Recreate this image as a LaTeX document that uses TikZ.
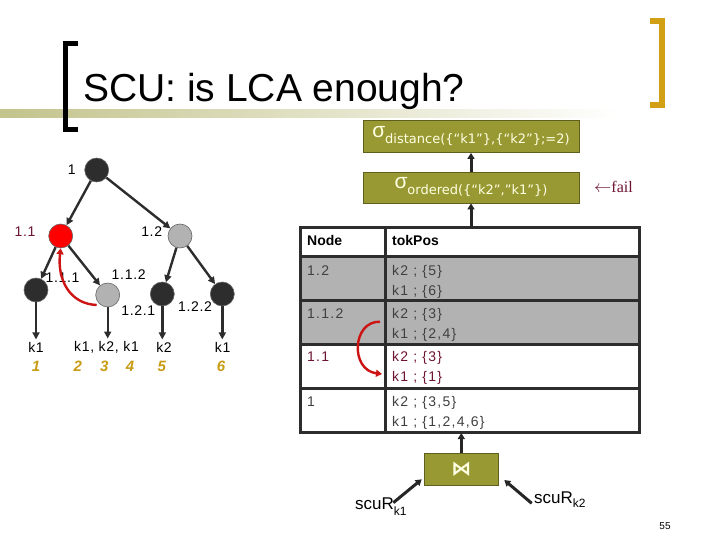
\documentclass[tikz,border=0pt]{standalone}
\usepackage{fontspec}
\setmainfont{Liberation Sans}
\newfontfamily\dv{DejaVu Sans}
\newfontfamily\lsf[LetterSpace=5]{Liberation Sans}
\newfontfamily\tsf[LetterSpace=9]{Liberation Sans}
\newfontfamily\tnr{Liberation Serif}
\usetikzlibrary{arrows.meta}
\definecolor{boxolive}{RGB}{153,153,51}
\definecolor{boxedge}{RGB}{95,95,30}
\definecolor{goldc}{RGB}{210,160,20}
\definecolor{numgold}{RGB}{200,155,20}
\definecolor{maroonc}{RGB}{110,20,50}
\definecolor{darkc}{RGB}{45,45,45}
\definecolor{grayc}{RGB}{178,178,178}
\definecolor{redc}{RGB}{205,20,20}
\definecolor{bandc}{RGB}{195,195,140}
\definecolor{cream}{RGB}{255,255,228}
\tikzset{
  tn/.style={circle, minimum size=24pt, inner sep=0pt, draw=black!60, line width=0.6pt},
  edge/.style={draw=darkc, line width=2.4pt, -{Triangle[length=7pt,width=7pt]}},
  redarr/.style={draw=redc, line width=2.4pt, -{Triangle[length=6pt,width=7pt]}},
  arr/.style={draw=black!85, line width=3pt, -{Triangle[length=6pt,width=7pt]}},
  sbox/.style={rectangle, fill=boxolive, draw=boxedge, line width=0.8pt, minimum width=216pt, inner sep=0pt, text=cream},
  tlab/.style={font=\lsf\fontsize{14}{14}\selectfont, inner sep=0pt},
  tab/.style={font=\tsf\fontsize{14}{14}\selectfont, inner sep=0pt, anchor=base west},
  num/.style={font=\fontsize{15}{15}\selectfont\bfseries\itshape, text=numgold, inner sep=0pt},
  rowline/.style={draw=darkc, line width=2.5pt}
}
\begin{document}
\begin{tikzpicture}[x=1pt,y=-1pt]
\useasboundingbox (0,0) rectangle (720,540);
% title
\shade[left color=bandc, right color=white] (0,110) rectangle (620,118);
\fill[black] (63,41) rectangle (68,132);
\fill[black] (63,41) rectangle (78,46);
\fill[black] (63,127) rectangle (78,132);
\fill[goldc] (659,18) rectangle (665,108);
\fill[goldc] (650,18) rectangle (665,24);
\fill[goldc] (650,102) rectangle (665,108);
\node[anchor=base west, inner sep=0pt, font=\fontsize{39}{46}\selectfont] (title) at (83,102) {SCU: is LCA enough?};

% sigma boxes
\node[sbox, minimum height=32pt] (s1) at (471,136.5) {{\fontsize{21}{21}\selectfont σ}\raisebox{-6pt}{\dv\fontsize{13}{13}\selectfont distance(\{“k1”\},\{“k2”\};=2)}};
\node[sbox, minimum height=31pt] (s2) at (471,187.5) {{\fontsize{21}{21}\selectfont σ}\raisebox{-6pt}{\dv\fontsize{13}{13}\selectfont ordered(\{“k2”,”k1”\})}};
\node[text=maroonc, inner sep=0pt, anchor=west, font=\tnr\fontsize{16}{16}\selectfont] (fail) at (594,187) {$\leftarrow$fail};

% table
\node[minimum width=339pt, minimum height=205.3pt, inner sep=0pt] (tab) at (469.5,330.15) {};
\fill[grayc] (300,256.7) rectangle (639,344.5);
\draw[rowline] (300,256.7) -- (639,256.7);
\draw[rowline] (300,300.7) -- (639,300.7);
\draw[rowline] (300,344.5) -- (639,344.5);
\draw[rowline] (300,388.5) -- (639,388.5);
\draw[rowline] (385.7,227.5) -- (385.7,432.8);
\draw[draw=darkc, line width=3pt] (300,227.5) rectangle (639,432.8);

\node[tab, font=\fontsize{14}{14}\selectfont\bfseries] (hn) at (307,245) {Node};
\node[tab, font=\fontsize{14}{14}\selectfont\bfseries] (ht) at (392,245) {tokPos};
\node[tab, text=black!75] (r1n) at (307,275) {1.2};
\node[tab, text=black!75] (r1a) at (392,275) {k2 ; \{5\}};
\node[tab, text=black!75] (r1b) at (392,295) {k1 ; \{6\}};
\node[tab, text=black!75] (r2n) at (307,318) {1.1.2};
\node[tab, text=black!75] (r2a) at (392,318) {k2 ; \{3\}};
\node[tab, text=black!75] (r2b) at (392,338) {k1 ; \{2,4\}};
\node[tab, text=maroonc] (r3n) at (307,361.5) {1.1};
\node[tab, text=maroonc] (r3a) at (392,361.5) {k2 ; \{3\}};
\node[tab, text=maroonc] (r3b) at (392,381.5) {k1 ; \{1\}};
\node[tab, text=black!75] (r4n) at (307,406.5) {1};
\node[tab, text=black!75] (r4a) at (392,406.5) {k2 ; \{3,5\}};
\node[tab, text=black!75] (r4b) at (392,426.5) {k1 ; \{1,2,4,6\}};
\coordinate (ta1) at (380,321.7);
\coordinate (ta2) at (382,374);
\draw[redarr] (ta1) .. controls (352,321) and (350,370) .. (ta2);

% arrows between operators
\draw[arr] (s2.south |- tab.north) -- (s2.south);
\draw[arr] (s2.north) -- (s1.south);

% join
\node[rectangle, fill=boxolive, draw=boxedge, line width=0.8pt, minimum width=74pt, minimum height=31.7pt, inner sep=0pt, text=cream] (join) at (461.3,469.2) {\dv\bfseries\fontsize{20}{20}\selectfont ⋈};
\draw[arr] (join.north) -- (join.north |- tab.south);
\node[anchor=base west, inner sep=0pt, font=\fontsize{17}{17}\selectfont] (scu1) at (355,509) {scuR\raisebox{-6pt}{\fontsize{12}{12}\selectfont k1}};
\node[anchor=base west, inner sep=0pt, font=\fontsize{17}{17}\selectfont] (scu2) at (534,503) {scuR\raisebox{-4pt}{\fontsize{12}{12}\selectfont k2}};
\coordinate (a1s) at (393.3,502.7);
\coordinate (a1e) at (421.7,479.3);
\coordinate (a2s) at (531.7,503.3);
\coordinate (a2e) at (504.3,480);
\draw[arr] (a1s) -- (a1e);
\draw[arr] (a2s) -- (a2e);
\node[inner sep=0pt, font=\fontsize{10}{10}\selectfont] (pg) at (665,526) {55};

% tree
\node[tn, fill=darkc] (n1) at (96.7,170) {};
\node[tn, fill=red] (n11) at (60.7,236) {};
\node[tn, fill=grayc] (n12) at (180,236) {};
\node[tn, fill=darkc] (n111) at (36,290) {};
\node[tn, fill=grayc] (n112) at (107.7,295) {};
\node[tn, fill=darkc] (n121) at (162.3,294) {};
\node[tn, fill=darkc] (n122) at (222.3,294) {};
\draw[edge] (n1) -- (n11);
\draw[edge] (n1) -- (n12);
\draw[edge] (n11) -- (n111);
\draw[edge] (n11) -- (n112);
\draw[edge] (n12) -- (n121);
\draw[edge] (n12) -- (n122);

\node[tlab] (l1) at (71.7,170) {1};
\node[tlab, text=maroonc] (l11) at (25,231.7) {1.1};
\node[tlab] (l12) at (151.7,231.7) {1.2};
\node[tlab] (l111) at (62.5,277.7) {1.1.1};
\node[tlab] (l112) at (128.7,275) {1.1.2};
\node[tlab] (l121) at (138.3,311) {1.2.1};
\node[tlab] (l122) at (195,307) {1.2.2};

\node[tlab, inner sep=3pt] (k1a) at (36,347.7) {k1};
\node[tlab, inner sep=3pt] (kk) at (106.5,347.7) {k1, k2, k1};
\node[tlab, inner sep=3pt] (k2a) at (164,347.7) {k2};
\node[tlab, inner sep=3pt] (k1b) at (222.7,347.7) {k1};
\draw[edge] (n111) -- (n111 |- k1a.north);
\draw[edge] (n112) -- (n112 |- kk.north);
\draw[edge] (n121) -- (n121 |- k2a.north);
\draw[edge] (n122) -- (n122 |- k1b.north);

\node[num] (d1) at (36,366) {1};
\node[num] (d2) at (77.7,366) {2};
\node[num] (d3) at (104.3,366) {3};
\node[num] (d4) at (130,366) {4};
\node[num] (d5) at (161.7,366) {5};
\node[num] (d6) at (221,366) {6};

\coordinate (tr1) at (96.7,305);
\draw[redarr] (tr1) .. controls (70,304) and (57,280) .. (n11.south);
\end{tikzpicture}
\end{document}
